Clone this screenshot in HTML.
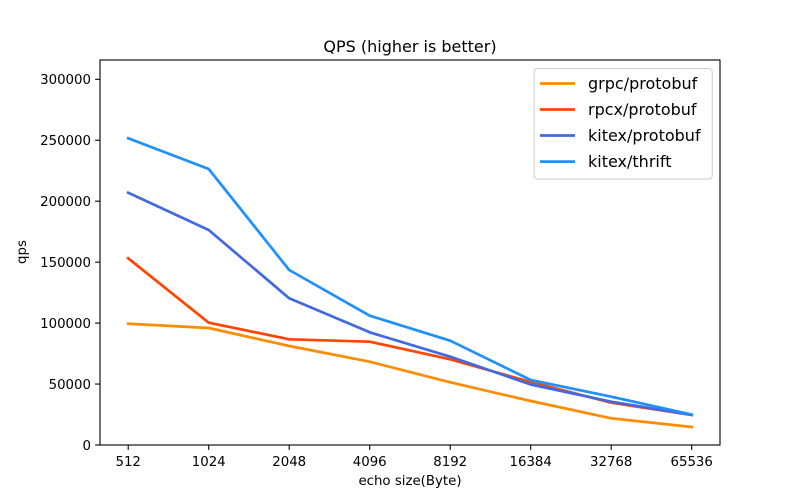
<!DOCTYPE html>
<html><head><meta charset="utf-8"><style>
html,body{margin:0;padding:0;background:#fff;}
svg{display:block;}
text{font-family:"DejaVu Sans","Liberation Sans",sans-serif;fill:#000;}
</style></head><body>
<svg width="800" height="500" viewBox="0 0 800 500" xmlns="http://www.w3.org/2000/svg">
<rect x="0" y="0" width="800" height="500" fill="#fff"/>
<text x="410" y="52" font-size="16" text-anchor="middle">QPS (higher is better)</text>
<g fill="none" stroke-width="2.7" stroke-linejoin="round" stroke-linecap="square">
<polyline stroke="#ff8c00" points="128.2,323.7 208.7,328 289.2,346 369.7,361.7 450.2,382.3 530.7,401 611.2,418.3 691.7,427"/>
<polyline stroke="#ff4500" points="128.2,258.3 208.7,322.7 289.2,339.3 369.7,341.7 450.2,359.3 530.7,382 611.2,402.7 691.7,415"/>
<polyline stroke="#4169e1" points="128.2,192.7 208.7,230 289.2,298.3 369.7,332.3 450.2,356.7 530.7,384.5 611.2,401.7 691.7,415"/>
<polyline stroke="#1e90ff" points="128.2,138.3 208.7,169 289.2,270 369.7,315.7 450.2,340.7 530.7,380 611.2,396.7 691.7,414.5"/>
</g>
<rect x="100" y="60" width="620" height="385" fill="none" stroke="#000" stroke-width="1.1"/>
<g stroke="#000" stroke-width="1.1">
<line x1="95.1" x2="100" y1="445" y2="445"/>
<line x1="95.1" x2="100" y1="384.05" y2="384.05"/>
<line x1="95.1" x2="100" y1="323.1" y2="323.1"/>
<line x1="95.1" x2="100" y1="262.15" y2="262.15"/>
<line x1="95.1" x2="100" y1="201.2" y2="201.2"/>
<line x1="95.1" x2="100" y1="140.25" y2="140.25"/>
<line x1="95.1" x2="100" y1="79.3" y2="79.3"/>
<line x1="128.2" x2="128.2" y1="445" y2="449.9"/>
<line x1="208.7" x2="208.7" y1="445" y2="449.9"/>
<line x1="289.2" x2="289.2" y1="445" y2="449.9"/>
<line x1="369.7" x2="369.7" y1="445" y2="449.9"/>
<line x1="450.2" x2="450.2" y1="445" y2="449.9"/>
<line x1="530.7" x2="530.7" y1="445" y2="449.9"/>
<line x1="611.2" x2="611.2" y1="445" y2="449.9"/>
<line x1="691.7" x2="691.7" y1="445" y2="449.9"/>
</g>
<g font-size="13.33" text-anchor="end">
<text x="91" y="450">0</text>
<text x="91" y="389">50000</text>
<text x="91" y="328">100000</text>
<text x="91" y="267">150000</text>
<text x="91" y="206">200000</text>
<text x="91" y="145">250000</text>
<text x="91" y="84">300000</text>
</g>
<g font-size="13.33" text-anchor="middle">
<text x="128.2" y="466">512</text>
<text x="208.7" y="466">1024</text>
<text x="289.2" y="466">2048</text>
<text x="369.7" y="466">4096</text>
<text x="450.2" y="466">8192</text>
<text x="530.7" y="466">16384</text>
<text x="611.2" y="466">32768</text>
<text x="691.7" y="466">65536</text>
</g>
<text x="410" y="485" font-size="13.33" text-anchor="middle">echo size(Byte)</text>
<text transform="translate(26,252) rotate(-90)" font-size="13.33" text-anchor="middle">qps</text>
<rect x="534.2" y="68.5" width="178" height="110.5" rx="3" ry="3" fill="#fff" fill-opacity="0.8" stroke="#cccccc" stroke-width="1"/>
<g stroke-width="2.7">
<line x1="540" x2="575" y1="83.5" y2="83.5" stroke="#ff8c00"/>
<line x1="540" x2="575" y1="109.5" y2="109.5" stroke="#ff4500"/>
<line x1="540" x2="575" y1="135.5" y2="135.5" stroke="#4169e1"/>
<line x1="540" x2="575" y1="161.6" y2="161.6" stroke="#1e90ff"/>
</g>
<g font-size="16">
<text x="588" y="89">grpc/protobuf</text>
<text x="588" y="115">rpcx/protobuf</text>
<text x="588" y="141">kitex/protobuf</text>
<text x="588" y="167">kitex/thrift</text>
</g>
</svg>
</body></html>
